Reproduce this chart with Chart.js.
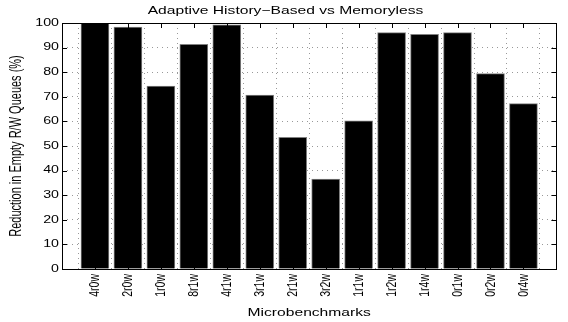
<!DOCTYPE html>
<html>
<head>
<meta charset="utf-8">
<script src="https://cdn.jsdelivr.net/npm/chart.js@4"></script>
<style>
    body { margin: 0; overflow: hidden; background: #fff; }
    .chart-box { width: 574px; height: 322px; }
</style>
</head>
<body>
<div class="chart-box"><canvas id="myChart"></canvas></div>
<script>
const categories = ['4r0w', '2r0w', '1r0w', '8r1w', '4r1w', '3r1w', '2r1w', '3r2w', '1r1w', '1r2w', '1r4w', '0r1w', '0r2w', '0r4w'];
const reduction = [100, 98.3, 74.4, 91.3, 99.3, 70.7, 53.5, 36.6, 60.2, 96.1, 95.4, 96.1, 79.4, 67.2];
const yTicks = [0, 10, 20, 30, 40, 50, 60, 70, 80, 90, 100];

// empty slot at each end, like the matlab axis (0 .. n+1)
const labels = [''].concat(categories, ['']);
const values = [null].concat(reduction, [null]);

// the original picture is stretched sideways on the page,
// so every text is drawn wider along the screen x direction
const wideText = {
    id: 'wideText',
    beforeInit(chart) {
        const ctx = chart.ctx;
        const fill = ctx.fillText;
        ctx.fillText = function (text, x, y) {
            const m = this.getTransform();
            const p = m.transformPoint(new DOMPoint(x, y));
            const stretched = new DOMMatrix()
                .translate(p.x, p.y)
                .scale(1.42, 1)
                .translate(-p.x, -p.y)
                .multiply(m);
            this.save();
            this.setTransform(stretched);
            fill.call(this, text, x, y);
            this.restore();
        };
    }
};

// box around the plot with inward tick marks
const axisBox = {
    id: 'axisBox',
    afterDatasetsDraw(chart) {
        const { ctx, chartArea: a, scales: { x, y } } = chart;
        ctx.save();
        ctx.strokeStyle = '#000';
        ctx.lineWidth = 1;
        ctx.beginPath();
        yTicks.forEach(v => {
            const py = Math.round(y.getPixelForValue(v)) + 0.5;
            ctx.moveTo(a.left, py); ctx.lineTo(a.left + 5, py);
            ctx.moveTo(a.right, py); ctx.lineTo(a.right - 5, py);
        });
        categories.forEach((c, i) => {
            const px = Math.round(x.getPixelForValue(i + 1)) + 0.5;
            ctx.moveTo(px, a.bottom); ctx.lineTo(px, a.bottom - 5);
            ctx.moveTo(px, a.top); ctx.lineTo(px, a.top + 5);
        });
        ctx.stroke();
        ctx.strokeRect(Math.round(a.left) + 0.5, Math.round(a.top) + 0.5,
            Math.round(a.right - a.left), Math.round(a.bottom - a.top));
        ctx.restore();
    }
};

const ctx1 = document.getElementById('myChart');

new Chart(ctx1, {
    type: 'bar',
    data: {
        labels: labels,
        datasets: [{
            data: values,
            backgroundColor: '#000',
            borderColor: '#808080',
            borderWidth: 1,
            barThickness: 28
        }]
    },
    options: {
        responsive: true,
        maintainAspectRatio: false,
        animation: false,
        layout: { padding: { left: 0, right: 3, top: 0, bottom: 0 } },
        plugins: {
            legend: { display: false },
            tooltip: { enabled: false },
            title: {
                display: true,
                text: 'Adaptive History\u2212Based vs Memoryless',
                color: '#000',
                font: { family: 'Liberation Sans', size: 11, weight: 'normal' },
                padding: { top: 4, bottom: 5.8 }
            }
        },
        scales: {
            x: {
                offset: false,
                grid: { color: '#999', drawTicks: false },
                border: { display: false, dash: [1, 4] },
                ticks: {
                    autoSkip: false,
                    minRotation: 90,
                    maxRotation: 90,
                    padding: 5,
                    color: '#000',
                    font: { family: 'Liberation Sans', size: 10.5 }
                },
                title: {
                    display: true,
                    text: 'Microbenchmarks',
                    color: '#000',
                    font: { family: 'Liberation Sans', size: 11 },
                    padding: { top: 0, bottom: 2 }
                },
                afterFit(scale) { scale.height = 53; }
            },
            y: {
                min: 0,
                max: 100,
                grid: { color: '#999', drawTicks: false },
                border: { display: false, dash: [1, 4] },
                ticks: {
                    stepSize: 10,
                    padding: 3,
                    color: '#000',
                    font: { family: 'Liberation Sans', size: 10 }
                },
                title: {
                    display: true,
                    text: 'Reduction in Empty R/W Queues (%)',
                    color: '#000',
                    font: { family: 'Liberation Sans', size: 11 },
                    padding: { top: 10, bottom: 0 }
                },
                afterFit(scale) { scale.width = 62; }
            }
        }
    },
    plugins: [wideText, axisBox]
});
</script>
</body>
</html>
